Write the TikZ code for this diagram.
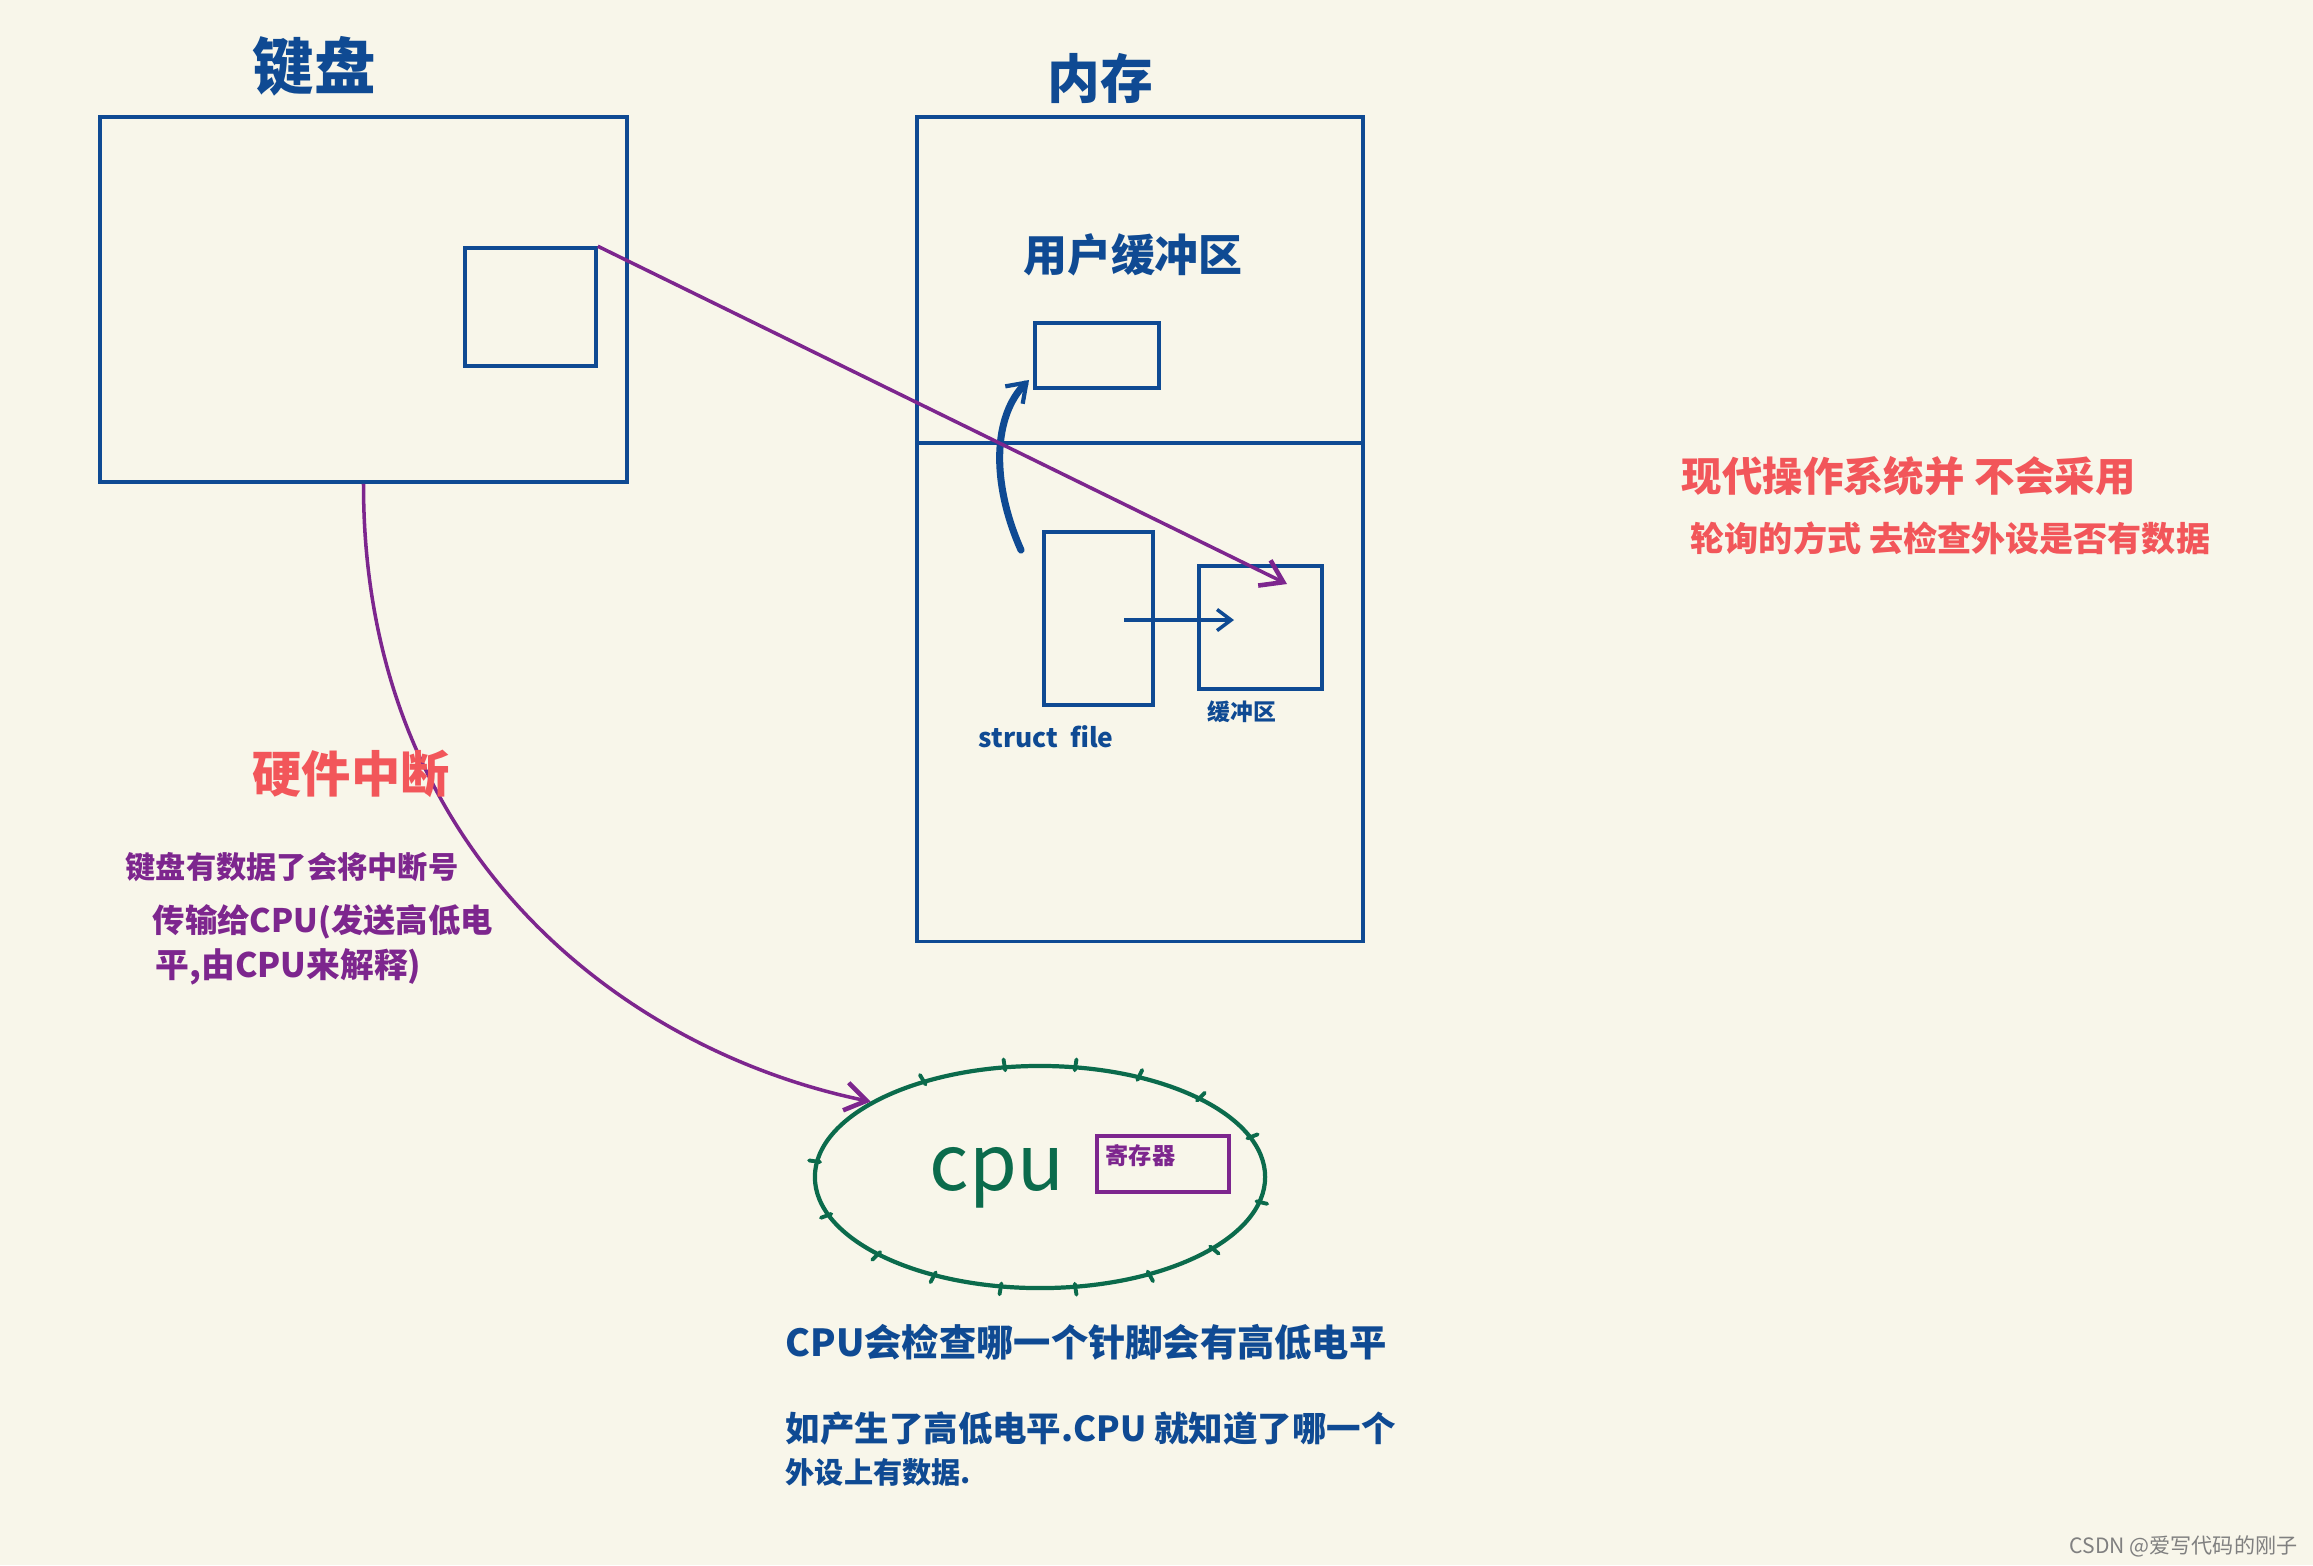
\documentclass[tikz,border=0pt]{standalone}
\usepackage{fontspec}
\setmainfont{Noto Sans CJK SC}
\usetikzlibrary{arrows.meta,shapes.geometric,positioning,calc}
\definecolor{paper}{HTML}{F8F6EA}
\definecolor{inkblue}{HTML}{0F4A93}
\definecolor{inkpurple}{HTML}{7D268E}
\definecolor{inkred}{HTML}{F2565A}
\definecolor{inkgreen}{HTML}{0B6B4C}
\newcommand{\fsz}[1]{\fontsize{#1pt}{#1pt}\selectfont\bfseries}
\tikzset{
    box/.style = {
        draw=inkblue,
        line width=1pt,
        inner sep=0pt,
        },
    regbox/.style = {
        draw=inkpurple,
        line width=1pt,
        inner sep=0pt,
        },
    cpu shape/.style = {
        draw=inkgreen,
        ellipse,
        line width=1.2pt,
        inner sep=0pt,
        minimum width=4.5cm,
        minimum height=2.22cm,
        },
    tick/.style = {
        draw=inkgreen,
        line width=1.1pt,
        line cap=round,
        },
    title/.style = {
        text=inkblue,
        inner sep=0pt,
        },
    note red/.style = {
        text=inkred,
        inner sep=0pt,
        anchor=west,
        },
    note purple/.style = {
        text=inkpurple,
        inner sep=0pt,
        anchor=west,
        },
    note blue/.style = {
        text=inkblue,
        inner sep=0pt,
        anchor=west,
        },
    purple edge/.style = {
        draw=inkpurple,
        line width=1pt,
        -{Straight Barb[length=6pt,width=8pt,line width=1.3pt]},
        },
    blue edge/.style = {
        draw=inkblue,
        line width=1pt,
        -{Straight Barb[length=4pt,width=6pt]},
        },
    curl edge/.style = {
        draw=inkblue,
        line width=2pt,
        line cap=round,
        -{Straight Barb[length=5pt,width=7pt,line width=1.2pt]},
        },
}

\begin{document}
\begin{tikzpicture}[x=0.01cm,y=-0.01cm]
            \fill[paper] (0,0) rectangle (2313,1565);
            \useasboundingbox (0,0) rectangle (2313,1565);

            \node[box, minimum width=5.27cm, minimum height=3.65cm] (kbd) at (363.5,299.5) {};
            \node[box, minimum width=1.31cm, minimum height=1.18cm] (kbdin) at (530.5,307) {};
            \node[title, font=\fsz{17.5}] (kbdtitle) at (314,66) {键盘};

            \node[box, minimum width=4.46cm, minimum height=8.24cm] (mem) at (1140,529) {};
            \node[title, font=\fsz{15}] (memtitle) at (1100,78) {内存};
            \coordinate (memdiv) at (0,443);
            \draw[box] (mem.west |- memdiv) -- (mem.east |- memdiv);

            \node[title, font=\fsz{12.5}] (ubuftitle) at (1133,255) {用户缓冲区};
            \node[box, minimum width=1.24cm, minimum height=0.65cm] (ubuf) at (1097,355.5) {};
            \node[box, minimum width=1.09cm, minimum height=1.73cm] (sfile) at (1098.5,618.5) {};
            \node[box, minimum width=1.23cm, minimum height=1.23cm] (kbuf) at (1260.5,627.5) {};
            \node[title, font=\fsz{7.5}] (sfilelabel) at (1046,737) {struct\ \ file};
            \node[title, font=\fsz{6.5}] (kbuflabel) at (1242,712) {缓冲区};

            \coordinate (sfptr) at (1124,620);
            \coordinate (kbufptr) at (1234,620);
            \coordinate (bufhit) at (1287,584);
            \coordinate (curlstart) at (1021,550);
            \coordinate (curlend) at (1029,380);

            \path (sfptr) edge[blue edge] (kbufptr);
            \draw[curl edge] (curlstart) .. controls (990,480) and (994,415) .. (curlend);
            \draw[purple edge] (kbdin.north east) -- (bufhit);

            \node[cpu shape] (cpu) at (1040,1177) {};
            \foreach \a in {121,99,81,64,45,21,-13,-40,-61,-81,-100,-118,-136,-160,172}
                \draw[tick] ($(cpu.center)+(\a:2.22cm and 1.08cm)$) -- ($(cpu.center)+(\a:2.33cm and 1.19cm)$);
            \node[text=inkgreen, inner sep=0pt, font=\fontsize{22pt}{22pt}\selectfont] (cputext) at (997,1178) {cpu};
            \node[regbox, minimum width=1.32cm, minimum height=0.56cm] (reg) at (1163,1164) {};
            \node[text=inkpurple, inner sep=0pt, anchor=west, font=\fsz{6.6}] (reglabel) at (1105,1156) {寄存器};

            \draw[purple edge] (kbd.south) .. controls (363,850) and (620,1050) .. (cpu.156);

            \node[text=inkred, inner sep=0pt, font=\fsz{14}] (irq) at (351,774) {硬件中断};
            \node[note purple, font=\fsz{8.6}] (irq1) at (125,867) {键盘有数据了会将中断号};
            \node[note purple, font=\fsz{9.2}] (irq2) at (152,922) {传输给CPU(发送高低电};
            \node[note purple, font=\fsz{9.6}] (irq3) at (155,967) {平,由CPU来解释)};

            \node[note red, font=\fsz{11.5}] (poll1) at (1681,476) {现代操作系统并\ 不会采用};
            \node[note red, font=\fsz{9.7}] (poll2) at (1690,538) {轮询的方式\ 去检查外设是否有数据};

            \node[note blue, font=\fsz{10.6}] (pin1) at (785,1342) {CPU会检查哪一个针脚会有高低电平};
            \node[note blue, font=\fsz{9.8}] (pin2) at (785,1428) {如产生了高低电平.CPU 就知道了哪一个};
            \node[note blue, font=\fsz{8.3}] (pin3) at (785,1472) {外设上有数据.};

            \node[text=gray, inner sep=0pt, anchor=east, font=\fontsize{6pt}{6pt}\selectfont] (mark) at (2298,1546) {CSDN @爱写代码的刚子};
        \end{tikzpicture}
\end{document}
